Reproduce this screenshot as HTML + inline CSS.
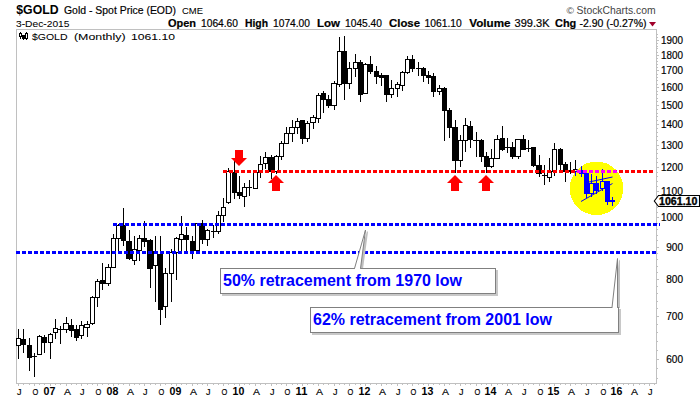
<!DOCTYPE html><html><head><meta charset="utf-8"><style>html,body{margin:0;padding:0;background:#fff;}svg{display:block;}text{font-family:"Liberation Sans",sans-serif;}</style></head><body>
<svg width="700" height="400" viewBox="0 0 700 400">
<rect x="0" y="0" width="700" height="400" fill="#fff"/>
<text x="16.3" y="14.4" font-size="13.2" fill="#000" font-weight="bold" textLength="42.3" lengthAdjust="spacingAndGlyphs">$GOLD</text>
<text x="64" y="14" font-size="11" fill="#000" stroke="#000" stroke-width="0.18" textLength="112" lengthAdjust="spacingAndGlyphs">Gold - Spot Price (EOD)</text>
<text x="182" y="13.8" font-size="9" fill="#000" stroke="#000" stroke-width="0.05" textLength="21" lengthAdjust="spacingAndGlyphs">CME</text>
<text x="16" y="26.6" font-size="9" fill="#000" stroke="#000" stroke-width="0.05" textLength="53.5" lengthAdjust="spacingAndGlyphs">3-Dec-2015</text>
<text x="168" y="26.7" font-size="11.3" fill="#000" font-weight="bold" textLength="28" lengthAdjust="spacingAndGlyphs" stroke="#000" stroke-width="0.2">Open</text>
<text x="201" y="26.7" font-size="10" fill="#000" stroke="#000" stroke-width="0.18" textLength="37" lengthAdjust="spacingAndGlyphs">1064.60</text>
<text x="245" y="26.7" font-size="11.3" fill="#000" font-weight="bold" textLength="23" lengthAdjust="spacingAndGlyphs" stroke="#000" stroke-width="0.2">High</text>
<text x="273" y="26.7" font-size="10" fill="#000" stroke="#000" stroke-width="0.18" textLength="37" lengthAdjust="spacingAndGlyphs">1074.00</text>
<text x="317" y="26.7" font-size="11.3" fill="#000" font-weight="bold" textLength="23" lengthAdjust="spacingAndGlyphs" stroke="#000" stroke-width="0.2">Low</text>
<text x="345" y="26.7" font-size="10" fill="#000" stroke="#000" stroke-width="0.18" textLength="37" lengthAdjust="spacingAndGlyphs">1045.40</text>
<text x="389" y="26.7" font-size="11.3" fill="#000" font-weight="bold" textLength="31" lengthAdjust="spacingAndGlyphs" stroke="#000" stroke-width="0.2">Close</text>
<text x="424.5" y="26.7" font-size="10" fill="#000" stroke="#000" stroke-width="0.18" textLength="37.25" lengthAdjust="spacingAndGlyphs">1061.10</text>
<text x="469.25" y="26.7" font-size="11.3" fill="#000" font-weight="bold" textLength="41.25" lengthAdjust="spacingAndGlyphs" stroke="#000" stroke-width="0.2">Volume</text>
<text x="514.5" y="26.7" font-size="10" fill="#000" stroke="#000" stroke-width="0.18" textLength="35" lengthAdjust="spacingAndGlyphs">399.3K</text>
<text x="555" y="26.7" font-size="11.3" fill="#000" font-weight="bold" textLength="21.25" lengthAdjust="spacingAndGlyphs" stroke="#000" stroke-width="0.2">Chg</text>
<text x="579.5" y="26.7" font-size="10" fill="#000" stroke="#000" stroke-width="0.18" textLength="67" lengthAdjust="spacingAndGlyphs">-2.90 (-0.27%)</text>
<polygon points="649,22 656,22 652.5,26.5" fill="#a0002a"/>
<text x="566.6" y="13.8" font-size="9.5" fill="#444" textLength="7.5" lengthAdjust="spacingAndGlyphs">&#169;</text>
<text x="576.6" y="13.9" font-size="11" fill="#444" textLength="79" lengthAdjust="spacingAndGlyphs">StockCharts.com</text>
<g shape-rendering="crispEdges">
<rect x="16.5" y="29.5" width="640" height="354" fill="none" stroke="#c0c0c0" stroke-width="1"/>
<rect x="657" y="378" width="1" height="1" fill="#c0c0c0"/>
<rect x="657" y="368" width="1" height="1" fill="#c0c0c0"/>
<rect x="657" y="359" width="2" height="1" fill="#c0c0c0"/>
<rect x="657" y="350" width="1" height="1" fill="#c0c0c0"/>
<rect x="657" y="341" width="1" height="1" fill="#c0c0c0"/>
<rect x="657" y="332" width="1" height="1" fill="#c0c0c0"/>
<rect x="657" y="324" width="1" height="1" fill="#c0c0c0"/>
<rect x="657" y="316" width="2" height="1" fill="#c0c0c0"/>
<rect x="657" y="308" width="1" height="1" fill="#c0c0c0"/>
<rect x="657" y="301" width="1" height="1" fill="#c0c0c0"/>
<rect x="657" y="293" width="1" height="1" fill="#c0c0c0"/>
<rect x="657" y="286" width="1" height="1" fill="#c0c0c0"/>
<rect x="657" y="279" width="2" height="1" fill="#c0c0c0"/>
<rect x="657" y="272" width="1" height="1" fill="#c0c0c0"/>
<rect x="657" y="266" width="1" height="1" fill="#c0c0c0"/>
<rect x="657" y="259" width="1" height="1" fill="#c0c0c0"/>
<rect x="657" y="253" width="1" height="1" fill="#c0c0c0"/>
<rect x="657" y="247" width="2" height="1" fill="#c0c0c0"/>
<rect x="657" y="240" width="1" height="1" fill="#c0c0c0"/>
<rect x="657" y="235" width="1" height="1" fill="#c0c0c0"/>
<rect x="657" y="229" width="1" height="1" fill="#c0c0c0"/>
<rect x="657" y="223" width="1" height="1" fill="#c0c0c0"/>
<rect x="657" y="217" width="2" height="1" fill="#c0c0c0"/>
<rect x="657" y="212" width="1" height="1" fill="#c0c0c0"/>
<rect x="657" y="207" width="1" height="1" fill="#c0c0c0"/>
<rect x="657" y="201" width="1" height="1" fill="#c0c0c0"/>
<rect x="657" y="196" width="1" height="1" fill="#c0c0c0"/>
<rect x="657" y="191" width="2" height="1" fill="#c0c0c0"/>
<rect x="657" y="186" width="1" height="1" fill="#c0c0c0"/>
<rect x="657" y="181" width="1" height="1" fill="#c0c0c0"/>
<rect x="657" y="176" width="1" height="1" fill="#c0c0c0"/>
<rect x="657" y="172" width="1" height="1" fill="#c0c0c0"/>
<rect x="657" y="167" width="2" height="1" fill="#c0c0c0"/>
<rect x="657" y="162" width="1" height="1" fill="#c0c0c0"/>
<rect x="657" y="158" width="1" height="1" fill="#c0c0c0"/>
<rect x="657" y="153" width="1" height="1" fill="#c0c0c0"/>
<rect x="657" y="149" width="1" height="1" fill="#c0c0c0"/>
<rect x="657" y="145" width="2" height="1" fill="#c0c0c0"/>
<rect x="657" y="140" width="1" height="1" fill="#c0c0c0"/>
<rect x="657" y="136" width="1" height="1" fill="#c0c0c0"/>
<rect x="657" y="132" width="1" height="1" fill="#c0c0c0"/>
<rect x="657" y="128" width="1" height="1" fill="#c0c0c0"/>
<rect x="657" y="124" width="2" height="1" fill="#c0c0c0"/>
<rect x="657" y="120" width="1" height="1" fill="#c0c0c0"/>
<rect x="657" y="116" width="1" height="1" fill="#c0c0c0"/>
<rect x="657" y="113" width="1" height="1" fill="#c0c0c0"/>
<rect x="657" y="109" width="1" height="1" fill="#c0c0c0"/>
<rect x="657" y="105" width="2" height="1" fill="#c0c0c0"/>
<rect x="657" y="101" width="1" height="1" fill="#c0c0c0"/>
<rect x="657" y="98" width="1" height="1" fill="#c0c0c0"/>
<rect x="657" y="94" width="1" height="1" fill="#c0c0c0"/>
<rect x="657" y="91" width="1" height="1" fill="#c0c0c0"/>
<rect x="657" y="87" width="2" height="1" fill="#c0c0c0"/>
<rect x="657" y="84" width="1" height="1" fill="#c0c0c0"/>
<rect x="657" y="80" width="1" height="1" fill="#c0c0c0"/>
<rect x="657" y="77" width="1" height="1" fill="#c0c0c0"/>
<rect x="657" y="74" width="1" height="1" fill="#c0c0c0"/>
<rect x="657" y="70" width="2" height="1" fill="#c0c0c0"/>
<rect x="657" y="67" width="1" height="1" fill="#c0c0c0"/>
<rect x="657" y="64" width="1" height="1" fill="#c0c0c0"/>
<rect x="657" y="61" width="1" height="1" fill="#c0c0c0"/>
<rect x="657" y="58" width="1" height="1" fill="#c0c0c0"/>
<rect x="657" y="55" width="2" height="1" fill="#c0c0c0"/>
<rect x="657" y="52" width="1" height="1" fill="#c0c0c0"/>
<rect x="657" y="48" width="1" height="1" fill="#c0c0c0"/>
<rect x="657" y="46" width="1" height="1" fill="#c0c0c0"/>
<rect x="657" y="43" width="1" height="1" fill="#c0c0c0"/>
<rect x="657" y="40" width="2" height="1" fill="#c0c0c0"/>
<rect x="657" y="37" width="1" height="1" fill="#c0c0c0"/>
<rect x="657" y="34" width="1" height="1" fill="#c0c0c0"/>
<rect x="18" y="384" width="1" height="2" fill="#c0c0c0"/>
<rect x="23" y="384" width="1" height="1" fill="#c0c0c0"/>
<rect x="29" y="384" width="1" height="1" fill="#c0c0c0"/>
<rect x="34" y="384" width="1" height="2" fill="#c0c0c0"/>
<rect x="39" y="384" width="1" height="1" fill="#c0c0c0"/>
<rect x="44" y="384" width="1" height="1" fill="#c0c0c0"/>
<rect x="50" y="384" width="1" height="2" fill="#c0c0c0"/>
<rect x="55" y="384" width="1" height="1" fill="#c0c0c0"/>
<rect x="60" y="384" width="1" height="1" fill="#c0c0c0"/>
<rect x="66" y="384" width="1" height="2" fill="#c0c0c0"/>
<rect x="71" y="384" width="1" height="1" fill="#c0c0c0"/>
<rect x="76" y="384" width="1" height="1" fill="#c0c0c0"/>
<rect x="81" y="384" width="1" height="2" fill="#c0c0c0"/>
<rect x="87" y="384" width="1" height="1" fill="#c0c0c0"/>
<rect x="92" y="384" width="1" height="1" fill="#c0c0c0"/>
<rect x="97" y="384" width="1" height="2" fill="#c0c0c0"/>
<rect x="102" y="384" width="1" height="1" fill="#c0c0c0"/>
<rect x="108" y="384" width="1" height="1" fill="#c0c0c0"/>
<rect x="113" y="384" width="1" height="2" fill="#c0c0c0"/>
<rect x="118" y="384" width="1" height="1" fill="#c0c0c0"/>
<rect x="123" y="384" width="1" height="1" fill="#c0c0c0"/>
<rect x="129" y="384" width="1" height="2" fill="#c0c0c0"/>
<rect x="134" y="384" width="1" height="1" fill="#c0c0c0"/>
<rect x="139" y="384" width="1" height="1" fill="#c0c0c0"/>
<rect x="144" y="384" width="1" height="2" fill="#c0c0c0"/>
<rect x="150" y="384" width="1" height="1" fill="#c0c0c0"/>
<rect x="155" y="384" width="1" height="1" fill="#c0c0c0"/>
<rect x="160" y="384" width="1" height="2" fill="#c0c0c0"/>
<rect x="165" y="384" width="1" height="1" fill="#c0c0c0"/>
<rect x="171" y="384" width="1" height="1" fill="#c0c0c0"/>
<rect x="176" y="384" width="1" height="2" fill="#c0c0c0"/>
<rect x="181" y="384" width="1" height="1" fill="#c0c0c0"/>
<rect x="186" y="384" width="1" height="1" fill="#c0c0c0"/>
<rect x="192" y="384" width="1" height="2" fill="#c0c0c0"/>
<rect x="197" y="384" width="1" height="1" fill="#c0c0c0"/>
<rect x="202" y="384" width="1" height="1" fill="#c0c0c0"/>
<rect x="207" y="384" width="1" height="2" fill="#c0c0c0"/>
<rect x="213" y="384" width="1" height="1" fill="#c0c0c0"/>
<rect x="218" y="384" width="1" height="1" fill="#c0c0c0"/>
<rect x="223" y="384" width="1" height="2" fill="#c0c0c0"/>
<rect x="228" y="384" width="1" height="1" fill="#c0c0c0"/>
<rect x="234" y="384" width="1" height="1" fill="#c0c0c0"/>
<rect x="239" y="384" width="1" height="2" fill="#c0c0c0"/>
<rect x="244" y="384" width="1" height="1" fill="#c0c0c0"/>
<rect x="249" y="384" width="1" height="1" fill="#c0c0c0"/>
<rect x="255" y="384" width="1" height="2" fill="#c0c0c0"/>
<rect x="260" y="384" width="1" height="1" fill="#c0c0c0"/>
<rect x="265" y="384" width="1" height="1" fill="#c0c0c0"/>
<rect x="271" y="384" width="1" height="2" fill="#c0c0c0"/>
<rect x="276" y="384" width="1" height="1" fill="#c0c0c0"/>
<rect x="281" y="384" width="1" height="1" fill="#c0c0c0"/>
<rect x="286" y="384" width="1" height="2" fill="#c0c0c0"/>
<rect x="292" y="384" width="1" height="1" fill="#c0c0c0"/>
<rect x="297" y="384" width="1" height="1" fill="#c0c0c0"/>
<rect x="302" y="384" width="1" height="2" fill="#c0c0c0"/>
<rect x="307" y="384" width="1" height="1" fill="#c0c0c0"/>
<rect x="313" y="384" width="1" height="1" fill="#c0c0c0"/>
<rect x="318" y="384" width="1" height="2" fill="#c0c0c0"/>
<rect x="323" y="384" width="1" height="1" fill="#c0c0c0"/>
<rect x="328" y="384" width="1" height="1" fill="#c0c0c0"/>
<rect x="334" y="384" width="1" height="2" fill="#c0c0c0"/>
<rect x="339" y="384" width="1" height="1" fill="#c0c0c0"/>
<rect x="344" y="384" width="1" height="1" fill="#c0c0c0"/>
<rect x="349" y="384" width="1" height="2" fill="#c0c0c0"/>
<rect x="355" y="384" width="1" height="1" fill="#c0c0c0"/>
<rect x="360" y="384" width="1" height="1" fill="#c0c0c0"/>
<rect x="365" y="384" width="1" height="2" fill="#c0c0c0"/>
<rect x="370" y="384" width="1" height="1" fill="#c0c0c0"/>
<rect x="376" y="384" width="1" height="1" fill="#c0c0c0"/>
<rect x="381" y="384" width="1" height="2" fill="#c0c0c0"/>
<rect x="386" y="384" width="1" height="1" fill="#c0c0c0"/>
<rect x="391" y="384" width="1" height="1" fill="#c0c0c0"/>
<rect x="397" y="384" width="1" height="2" fill="#c0c0c0"/>
<rect x="402" y="384" width="1" height="1" fill="#c0c0c0"/>
<rect x="407" y="384" width="1" height="1" fill="#c0c0c0"/>
<rect x="412" y="384" width="1" height="2" fill="#c0c0c0"/>
<rect x="418" y="384" width="1" height="1" fill="#c0c0c0"/>
<rect x="423" y="384" width="1" height="1" fill="#c0c0c0"/>
<rect x="428" y="384" width="1" height="2" fill="#c0c0c0"/>
<rect x="433" y="384" width="1" height="1" fill="#c0c0c0"/>
<rect x="439" y="384" width="1" height="1" fill="#c0c0c0"/>
<rect x="444" y="384" width="1" height="2" fill="#c0c0c0"/>
<rect x="449" y="384" width="1" height="1" fill="#c0c0c0"/>
<rect x="455" y="384" width="1" height="1" fill="#c0c0c0"/>
<rect x="460" y="384" width="1" height="2" fill="#c0c0c0"/>
<rect x="465" y="384" width="1" height="1" fill="#c0c0c0"/>
<rect x="470" y="384" width="1" height="1" fill="#c0c0c0"/>
<rect x="476" y="384" width="1" height="2" fill="#c0c0c0"/>
<rect x="481" y="384" width="1" height="1" fill="#c0c0c0"/>
<rect x="486" y="384" width="1" height="1" fill="#c0c0c0"/>
<rect x="491" y="384" width="1" height="2" fill="#c0c0c0"/>
<rect x="497" y="384" width="1" height="1" fill="#c0c0c0"/>
<rect x="502" y="384" width="1" height="1" fill="#c0c0c0"/>
<rect x="507" y="384" width="1" height="2" fill="#c0c0c0"/>
<rect x="512" y="384" width="1" height="1" fill="#c0c0c0"/>
<rect x="518" y="384" width="1" height="1" fill="#c0c0c0"/>
<rect x="523" y="384" width="1" height="2" fill="#c0c0c0"/>
<rect x="528" y="384" width="1" height="1" fill="#c0c0c0"/>
<rect x="533" y="384" width="1" height="1" fill="#c0c0c0"/>
<rect x="539" y="384" width="1" height="2" fill="#c0c0c0"/>
<rect x="544" y="384" width="1" height="1" fill="#c0c0c0"/>
<rect x="549" y="384" width="1" height="1" fill="#c0c0c0"/>
<rect x="554" y="384" width="1" height="2" fill="#c0c0c0"/>
<rect x="560" y="384" width="1" height="1" fill="#c0c0c0"/>
<rect x="565" y="384" width="1" height="1" fill="#c0c0c0"/>
<rect x="570" y="384" width="1" height="2" fill="#c0c0c0"/>
<rect x="575" y="384" width="1" height="1" fill="#c0c0c0"/>
<rect x="581" y="384" width="1" height="1" fill="#c0c0c0"/>
<rect x="586" y="384" width="1" height="2" fill="#c0c0c0"/>
<rect x="591" y="384" width="1" height="1" fill="#c0c0c0"/>
<rect x="596" y="384" width="1" height="1" fill="#c0c0c0"/>
<rect x="602" y="384" width="1" height="2" fill="#c0c0c0"/>
<rect x="607" y="384" width="1" height="1" fill="#c0c0c0"/>
<rect x="612" y="384" width="1" height="1" fill="#c0c0c0"/>
<rect x="617" y="384" width="1" height="2" fill="#c0c0c0"/>
<rect x="623" y="384" width="1" height="1" fill="#c0c0c0"/>
<rect x="628" y="384" width="1" height="1" fill="#c0c0c0"/>
<rect x="633" y="384" width="1" height="2" fill="#c0c0c0"/>
<rect x="639" y="384" width="1" height="1" fill="#c0c0c0"/>
<rect x="644" y="384" width="1" height="1" fill="#c0c0c0"/>
<rect x="649" y="384" width="1" height="2" fill="#c0c0c0"/>
<rect x="654" y="384" width="1" height="1" fill="#c0c0c0"/>
</g>
<text x="683" y="43.60777574706725" font-size="10" fill="#000" stroke="#000" stroke-width="0.18" textLength="22" lengthAdjust="spacingAndGlyphs" text-anchor="end">1900</text>
<text x="683" y="58.58439603893356" font-size="10" fill="#000" stroke="#000" stroke-width="0.18" textLength="22" lengthAdjust="spacingAndGlyphs" text-anchor="end">1800</text>
<text x="683" y="74.41727667259931" font-size="10" fill="#000" stroke="#000" stroke-width="0.18" textLength="22" lengthAdjust="spacingAndGlyphs" text-anchor="end">1700</text>
<text x="683" y="91.21029691575183" font-size="10" fill="#000" stroke="#000" stroke-width="0.18" textLength="22" lengthAdjust="spacingAndGlyphs" text-anchor="end">1600</text>
<text x="683" y="109.08746727085901" font-size="10" fill="#000" stroke="#000" stroke-width="0.18" textLength="22" lengthAdjust="spacingAndGlyphs" text-anchor="end">1500</text>
<text x="683" y="128.19849267274455" font-size="10" fill="#000" stroke="#000" stroke-width="0.18" textLength="22" lengthAdjust="spacingAndGlyphs" text-anchor="end">1400</text>
<text x="683" y="148.72640095932556" font-size="10" fill="#000" stroke="#000" stroke-width="0.18" textLength="22" lengthAdjust="spacingAndGlyphs" text-anchor="end">1300</text>
<text x="683" y="170.89823098489512" font-size="10" fill="#000" stroke="#000" stroke-width="0.18" textLength="22" lengthAdjust="spacingAndGlyphs" text-anchor="end">1200</text>
<text x="683" y="195.0003824110226" font-size="10" fill="#000" stroke="#000" stroke-width="0.18" textLength="22" lengthAdjust="spacingAndGlyphs" text-anchor="end">1100</text>
<text x="683" y="221.40130221682054" font-size="10" fill="#000" stroke="#000" stroke-width="0.18" textLength="22" lengthAdjust="spacingAndGlyphs" text-anchor="end">1000</text>
<text x="683" y="250.58616505403845" font-size="10" fill="#000" stroke="#000" stroke-width="0.18" textLength="16.8" lengthAdjust="spacingAndGlyphs" text-anchor="end">900</text>
<text x="683" y="283.2120659308567" font-size="10" fill="#000" stroke="#000" stroke-width="0.18" textLength="16.8" lengthAdjust="spacingAndGlyphs" text-anchor="end">800</text>
<text x="683" y="320.20026168784943" font-size="10" fill="#000" stroke="#000" stroke-width="0.18" textLength="16.8" lengthAdjust="spacingAndGlyphs" text-anchor="end">700</text>
<text x="683" y="362.9" font-size="10" fill="#000" stroke="#000" stroke-width="0.18" textLength="16.8" lengthAdjust="spacingAndGlyphs" text-anchor="end">600</text>
<text x="19.2" y="394.8" font-size="9.5" fill="#000" stroke="#000" stroke-width="0.18" textLength="4.5" lengthAdjust="spacingAndGlyphs" text-anchor="middle">J</text>
<text x="35.3" y="394.8" font-size="9.5" fill="#000" stroke="#000" stroke-width="0.18" textLength="5.8" lengthAdjust="spacingAndGlyphs" text-anchor="middle">O</text>
<text x="49.5" y="395" font-size="11" fill="#000" font-weight="bold" textLength="11.8" lengthAdjust="spacingAndGlyphs" text-anchor="middle">07</text>
<text x="67.4" y="394.8" font-size="9.5" fill="#000" stroke="#000" stroke-width="0.18" textLength="7" lengthAdjust="spacingAndGlyphs" text-anchor="middle">A</text>
<text x="82.2" y="394.8" font-size="9.5" fill="#000" stroke="#000" stroke-width="0.18" textLength="4.5" lengthAdjust="spacingAndGlyphs" text-anchor="middle">J</text>
<text x="98.3" y="394.8" font-size="9.5" fill="#000" stroke="#000" stroke-width="0.18" textLength="5.8" lengthAdjust="spacingAndGlyphs" text-anchor="middle">O</text>
<text x="112.5" y="395" font-size="11" fill="#000" font-weight="bold" textLength="11.8" lengthAdjust="spacingAndGlyphs" text-anchor="middle">08</text>
<text x="130.4" y="394.8" font-size="9.5" fill="#000" stroke="#000" stroke-width="0.18" textLength="7" lengthAdjust="spacingAndGlyphs" text-anchor="middle">A</text>
<text x="145.2" y="394.8" font-size="9.5" fill="#000" stroke="#000" stroke-width="0.18" textLength="4.5" lengthAdjust="spacingAndGlyphs" text-anchor="middle">J</text>
<text x="161.3" y="394.8" font-size="9.5" fill="#000" stroke="#000" stroke-width="0.18" textLength="5.8" lengthAdjust="spacingAndGlyphs" text-anchor="middle">O</text>
<text x="175.5" y="395" font-size="11" fill="#000" font-weight="bold" textLength="11.8" lengthAdjust="spacingAndGlyphs" text-anchor="middle">09</text>
<text x="193.4" y="394.8" font-size="9.5" fill="#000" stroke="#000" stroke-width="0.18" textLength="7" lengthAdjust="spacingAndGlyphs" text-anchor="middle">A</text>
<text x="208.2" y="394.8" font-size="9.5" fill="#000" stroke="#000" stroke-width="0.18" textLength="4.5" lengthAdjust="spacingAndGlyphs" text-anchor="middle">J</text>
<text x="224.3" y="394.8" font-size="9.5" fill="#000" stroke="#000" stroke-width="0.18" textLength="5.8" lengthAdjust="spacingAndGlyphs" text-anchor="middle">O</text>
<text x="238.5" y="395" font-size="11" fill="#000" font-weight="bold" textLength="11.8" lengthAdjust="spacingAndGlyphs" text-anchor="middle">10</text>
<text x="256.4" y="394.8" font-size="9.5" fill="#000" stroke="#000" stroke-width="0.18" textLength="7" lengthAdjust="spacingAndGlyphs" text-anchor="middle">A</text>
<text x="272.2" y="394.8" font-size="9.5" fill="#000" stroke="#000" stroke-width="0.18" textLength="4.5" lengthAdjust="spacingAndGlyphs" text-anchor="middle">J</text>
<text x="287.3" y="394.8" font-size="9.5" fill="#000" stroke="#000" stroke-width="0.18" textLength="5.8" lengthAdjust="spacingAndGlyphs" text-anchor="middle">O</text>
<text x="301.5" y="395" font-size="11" fill="#000" font-weight="bold" textLength="11.8" lengthAdjust="spacingAndGlyphs" text-anchor="middle">11</text>
<text x="319.4" y="394.8" font-size="9.5" fill="#000" stroke="#000" stroke-width="0.18" textLength="7" lengthAdjust="spacingAndGlyphs" text-anchor="middle">A</text>
<text x="335.2" y="394.8" font-size="9.5" fill="#000" stroke="#000" stroke-width="0.18" textLength="4.5" lengthAdjust="spacingAndGlyphs" text-anchor="middle">J</text>
<text x="350.3" y="394.8" font-size="9.5" fill="#000" stroke="#000" stroke-width="0.18" textLength="5.8" lengthAdjust="spacingAndGlyphs" text-anchor="middle">O</text>
<text x="364.5" y="395" font-size="11" fill="#000" font-weight="bold" textLength="11.8" lengthAdjust="spacingAndGlyphs" text-anchor="middle">12</text>
<text x="382.4" y="394.8" font-size="9.5" fill="#000" stroke="#000" stroke-width="0.18" textLength="7" lengthAdjust="spacingAndGlyphs" text-anchor="middle">A</text>
<text x="398.2" y="394.8" font-size="9.5" fill="#000" stroke="#000" stroke-width="0.18" textLength="4.5" lengthAdjust="spacingAndGlyphs" text-anchor="middle">J</text>
<text x="413.3" y="394.8" font-size="9.5" fill="#000" stroke="#000" stroke-width="0.18" textLength="5.8" lengthAdjust="spacingAndGlyphs" text-anchor="middle">O</text>
<text x="427.5" y="395" font-size="11" fill="#000" font-weight="bold" textLength="11.8" lengthAdjust="spacingAndGlyphs" text-anchor="middle">13</text>
<text x="445.4" y="394.8" font-size="9.5" fill="#000" stroke="#000" stroke-width="0.18" textLength="7" lengthAdjust="spacingAndGlyphs" text-anchor="middle">A</text>
<text x="461.2" y="394.8" font-size="9.5" fill="#000" stroke="#000" stroke-width="0.18" textLength="4.5" lengthAdjust="spacingAndGlyphs" text-anchor="middle">J</text>
<text x="477.3" y="394.8" font-size="9.5" fill="#000" stroke="#000" stroke-width="0.18" textLength="5.8" lengthAdjust="spacingAndGlyphs" text-anchor="middle">O</text>
<text x="490.5" y="395" font-size="11" fill="#000" font-weight="bold" textLength="11.8" lengthAdjust="spacingAndGlyphs" text-anchor="middle">14</text>
<text x="508.4" y="394.8" font-size="9.5" fill="#000" stroke="#000" stroke-width="0.18" textLength="7" lengthAdjust="spacingAndGlyphs" text-anchor="middle">A</text>
<text x="524.2" y="394.8" font-size="9.5" fill="#000" stroke="#000" stroke-width="0.18" textLength="4.5" lengthAdjust="spacingAndGlyphs" text-anchor="middle">J</text>
<text x="540.3" y="394.8" font-size="9.5" fill="#000" stroke="#000" stroke-width="0.18" textLength="5.8" lengthAdjust="spacingAndGlyphs" text-anchor="middle">O</text>
<text x="553.5" y="395" font-size="11" fill="#000" font-weight="bold" textLength="11.8" lengthAdjust="spacingAndGlyphs" text-anchor="middle">15</text>
<text x="571.4" y="394.8" font-size="9.5" fill="#000" stroke="#000" stroke-width="0.18" textLength="7" lengthAdjust="spacingAndGlyphs" text-anchor="middle">A</text>
<text x="587.2" y="394.8" font-size="9.5" fill="#000" stroke="#000" stroke-width="0.18" textLength="4.5" lengthAdjust="spacingAndGlyphs" text-anchor="middle">J</text>
<text x="603.3" y="394.8" font-size="9.5" fill="#000" stroke="#000" stroke-width="0.18" textLength="5.8" lengthAdjust="spacingAndGlyphs" text-anchor="middle">O</text>
<text x="616.5" y="395" font-size="11" fill="#000" font-weight="bold" textLength="11.8" lengthAdjust="spacingAndGlyphs" text-anchor="middle">16</text>
<text x="634.4" y="394.8" font-size="9.5" fill="#000" stroke="#000" stroke-width="0.18" textLength="7" lengthAdjust="spacingAndGlyphs" text-anchor="middle">A</text>
<text x="650.2" y="394.8" font-size="9.5" fill="#000" stroke="#000" stroke-width="0.18" textLength="4.5" lengthAdjust="spacingAndGlyphs" text-anchor="middle">J</text>
<g shape-rendering="crispEdges">
<rect x="18" y="329" width="1" height="30" fill="#000"/>
<rect x="16" y="338" width="5" height="8" fill="#000"/>
<rect x="17" y="339" width="3" height="6" fill="#fff"/>
<rect x="23" y="329" width="1" height="24" fill="#000"/>
<rect x="21" y="339" width="5" height="6" fill="#000"/>
<rect x="29" y="338" width="1" height="33" fill="#000"/>
<rect x="27" y="345" width="5" height="13" fill="#000"/>
<rect x="34" y="353" width="1" height="24" fill="#000"/>
<rect x="32" y="356" width="5" height="1" fill="#000"/>
<rect x="39" y="335" width="1" height="20" fill="#000"/>
<rect x="37" y="336" width="5" height="19" fill="#000"/>
<rect x="38" y="337" width="3" height="17" fill="#fff"/>
<rect x="44" y="335" width="1" height="18" fill="#000"/>
<rect x="42" y="337" width="5" height="6" fill="#000"/>
<rect x="50" y="333" width="1" height="26" fill="#000"/>
<rect x="48" y="334" width="5" height="9" fill="#000"/>
<rect x="49" y="335" width="3" height="7" fill="#fff"/>
<rect x="55" y="319" width="1" height="20" fill="#000"/>
<rect x="53" y="328" width="5" height="5" fill="#000"/>
<rect x="54" y="329" width="3" height="3" fill="#fff"/>
<rect x="60" y="326" width="1" height="18" fill="#000"/>
<rect x="58" y="329" width="5" height="1" fill="#000"/>
<rect x="66" y="317" width="1" height="16" fill="#000"/>
<rect x="63" y="323" width="6" height="7" fill="#000"/>
<rect x="64" y="324" width="4" height="5" fill="#fff"/>
<rect x="71" y="319" width="1" height="18" fill="#000"/>
<rect x="69" y="325" width="5" height="6" fill="#000"/>
<rect x="76" y="325" width="1" height="16" fill="#000"/>
<rect x="74" y="329" width="5" height="9" fill="#000"/>
<rect x="81" y="321" width="1" height="18" fill="#000"/>
<rect x="79" y="325" width="5" height="11" fill="#000"/>
<rect x="80" y="326" width="3" height="9" fill="#fff"/>
<rect x="87" y="321" width="1" height="16" fill="#000"/>
<rect x="84" y="324" width="6" height="4" fill="#000"/>
<rect x="85" y="325" width="4" height="2" fill="#fff"/>
<rect x="92" y="296" width="1" height="29" fill="#000"/>
<rect x="90" y="297" width="5" height="27" fill="#000"/>
<rect x="91" y="298" width="3" height="25" fill="#fff"/>
<rect x="97" y="279" width="1" height="28" fill="#000"/>
<rect x="95" y="281" width="5" height="17" fill="#000"/>
<rect x="96" y="282" width="3" height="15" fill="#fff"/>
<rect x="102" y="263" width="1" height="27" fill="#000"/>
<rect x="100" y="280" width="5" height="4" fill="#000"/>
<rect x="108" y="264" width="1" height="22" fill="#000"/>
<rect x="105" y="267" width="6" height="17" fill="#000"/>
<rect x="106" y="268" width="4" height="15" fill="#fff"/>
<rect x="113" y="234" width="1" height="34" fill="#000"/>
<rect x="111" y="238" width="5" height="30" fill="#000"/>
<rect x="112" y="239" width="3" height="28" fill="#fff"/>
<rect x="118" y="224" width="1" height="27" fill="#000"/>
<rect x="116" y="225" width="5" height="14" fill="#000"/>
<rect x="117" y="226" width="3" height="12" fill="#fff"/>
<rect x="123" y="208" width="1" height="38" fill="#000"/>
<rect x="121" y="225" width="5" height="16" fill="#000"/>
<rect x="129" y="230" width="1" height="30" fill="#000"/>
<rect x="126" y="241" width="6" height="18" fill="#000"/>
<rect x="134" y="236" width="1" height="29" fill="#000"/>
<rect x="132" y="249" width="5" height="12" fill="#000"/>
<rect x="133" y="250" width="3" height="10" fill="#fff"/>
<rect x="139" y="235" width="1" height="26" fill="#000"/>
<rect x="137" y="238" width="5" height="13" fill="#000"/>
<rect x="138" y="239" width="3" height="11" fill="#fff"/>
<rect x="144" y="221" width="1" height="26" fill="#000"/>
<rect x="142" y="238" width="5" height="4" fill="#000"/>
<rect x="150" y="239" width="1" height="49" fill="#000"/>
<rect x="147" y="240" width="6" height="29" fill="#000"/>
<rect x="155" y="236" width="1" height="66" fill="#000"/>
<rect x="153" y="251" width="5" height="15" fill="#000"/>
<rect x="154" y="252" width="3" height="13" fill="#fff"/>
<rect x="160" y="236" width="1" height="89" fill="#000"/>
<rect x="158" y="254" width="5" height="56" fill="#000"/>
<rect x="165" y="268" width="1" height="50" fill="#000"/>
<rect x="163" y="273" width="5" height="34" fill="#000"/>
<rect x="164" y="274" width="3" height="32" fill="#fff"/>
<rect x="171" y="249" width="1" height="53" fill="#000"/>
<rect x="169" y="252" width="5" height="22" fill="#000"/>
<rect x="170" y="253" width="3" height="20" fill="#fff"/>
<rect x="176" y="237" width="1" height="43" fill="#000"/>
<rect x="174" y="238" width="5" height="15" fill="#000"/>
<rect x="175" y="239" width="3" height="13" fill="#fff"/>
<rect x="181" y="216" width="1" height="35" fill="#000"/>
<rect x="179" y="234" width="5" height="6" fill="#000"/>
<rect x="180" y="235" width="3" height="4" fill="#fff"/>
<rect x="186" y="227" width="1" height="24" fill="#000"/>
<rect x="184" y="235" width="5" height="5" fill="#000"/>
<rect x="192" y="236" width="1" height="23" fill="#000"/>
<rect x="190" y="241" width="5" height="10" fill="#000"/>
<rect x="197" y="223" width="1" height="28" fill="#000"/>
<rect x="195" y="223" width="5" height="28" fill="#000"/>
<rect x="196" y="224" width="3" height="26" fill="#fff"/>
<rect x="202" y="220" width="1" height="24" fill="#000"/>
<rect x="200" y="223" width="5" height="17" fill="#000"/>
<rect x="207" y="229" width="1" height="17" fill="#000"/>
<rect x="205" y="230" width="5" height="10" fill="#000"/>
<rect x="206" y="231" width="3" height="8" fill="#fff"/>
<rect x="213" y="225" width="1" height="13" fill="#000"/>
<rect x="211" y="231" width="5" height="1" fill="#000"/>
<rect x="218" y="211" width="1" height="23" fill="#000"/>
<rect x="216" y="215" width="5" height="17" fill="#000"/>
<rect x="217" y="216" width="3" height="15" fill="#fff"/>
<rect x="223" y="198" width="1" height="24" fill="#000"/>
<rect x="221" y="207" width="5" height="9" fill="#000"/>
<rect x="222" y="208" width="3" height="7" fill="#fff"/>
<rect x="228" y="168" width="1" height="36" fill="#000"/>
<rect x="226" y="171" width="5" height="32" fill="#000"/>
<rect x="227" y="172" width="3" height="30" fill="#fff"/>
<rect x="234" y="161" width="1" height="38" fill="#000"/>
<rect x="232" y="172" width="5" height="21" fill="#000"/>
<rect x="239" y="176" width="1" height="23" fill="#000"/>
<rect x="237" y="192" width="5" height="4" fill="#000"/>
<rect x="244" y="183" width="1" height="24" fill="#000"/>
<rect x="242" y="187" width="5" height="10" fill="#000"/>
<rect x="243" y="188" width="3" height="8" fill="#fff"/>
<rect x="249" y="180" width="1" height="16" fill="#000"/>
<rect x="247" y="187" width="5" height="1" fill="#000"/>
<rect x="255" y="172" width="1" height="17" fill="#000"/>
<rect x="253" y="172" width="5" height="17" fill="#000"/>
<rect x="254" y="173" width="3" height="15" fill="#fff"/>
<rect x="260" y="156" width="1" height="22" fill="#000"/>
<rect x="258" y="164" width="5" height="9" fill="#000"/>
<rect x="259" y="165" width="3" height="7" fill="#fff"/>
<rect x="265" y="152" width="1" height="17" fill="#000"/>
<rect x="263" y="157" width="5" height="7" fill="#000"/>
<rect x="264" y="158" width="3" height="5" fill="#fff"/>
<rect x="271" y="155" width="1" height="24" fill="#000"/>
<rect x="268" y="157" width="6" height="15" fill="#000"/>
<rect x="276" y="155" width="1" height="19" fill="#000"/>
<rect x="274" y="156" width="5" height="16" fill="#000"/>
<rect x="275" y="157" width="3" height="14" fill="#fff"/>
<rect x="281" y="141" width="1" height="19" fill="#000"/>
<rect x="279" y="143" width="5" height="14" fill="#000"/>
<rect x="280" y="144" width="3" height="12" fill="#fff"/>
<rect x="286" y="127" width="1" height="17" fill="#000"/>
<rect x="284" y="133" width="5" height="11" fill="#000"/>
<rect x="285" y="134" width="3" height="9" fill="#fff"/>
<rect x="292" y="120" width="1" height="22" fill="#000"/>
<rect x="289" y="127" width="6" height="7" fill="#000"/>
<rect x="290" y="128" width="4" height="5" fill="#fff"/>
<rect x="297" y="118" width="1" height="16" fill="#000"/>
<rect x="295" y="121" width="5" height="7" fill="#000"/>
<rect x="296" y="122" width="3" height="5" fill="#fff"/>
<rect x="302" y="120" width="1" height="24" fill="#000"/>
<rect x="300" y="120" width="5" height="19" fill="#000"/>
<rect x="307" y="121" width="1" height="21" fill="#000"/>
<rect x="305" y="123" width="5" height="16" fill="#000"/>
<rect x="306" y="124" width="3" height="14" fill="#fff"/>
<rect x="313" y="115" width="1" height="14" fill="#000"/>
<rect x="310" y="117" width="6" height="6" fill="#000"/>
<rect x="311" y="118" width="4" height="4" fill="#fff"/>
<rect x="318" y="93" width="1" height="30" fill="#000"/>
<rect x="316" y="95" width="5" height="24" fill="#000"/>
<rect x="317" y="96" width="3" height="22" fill="#fff"/>
<rect x="323" y="91" width="1" height="22" fill="#000"/>
<rect x="321" y="93" width="5" height="7" fill="#000"/>
<rect x="328" y="95" width="1" height="13" fill="#000"/>
<rect x="326" y="99" width="5" height="7" fill="#000"/>
<rect x="334" y="81" width="1" height="29" fill="#000"/>
<rect x="331" y="83" width="6" height="23" fill="#000"/>
<rect x="332" y="84" width="4" height="21" fill="#fff"/>
<rect x="339" y="37" width="1" height="50" fill="#000"/>
<rect x="337" y="51" width="5" height="34" fill="#000"/>
<rect x="338" y="52" width="3" height="32" fill="#fff"/>
<rect x="344" y="36" width="1" height="64" fill="#000"/>
<rect x="342" y="51" width="5" height="33" fill="#000"/>
<rect x="349" y="62" width="1" height="27" fill="#000"/>
<rect x="347" y="68" width="5" height="16" fill="#000"/>
<rect x="348" y="69" width="3" height="14" fill="#fff"/>
<rect x="355" y="54" width="1" height="23" fill="#000"/>
<rect x="353" y="62" width="5" height="7" fill="#000"/>
<rect x="354" y="63" width="3" height="5" fill="#fff"/>
<rect x="360" y="60" width="1" height="42" fill="#000"/>
<rect x="358" y="62" width="5" height="33" fill="#000"/>
<rect x="365" y="63" width="1" height="31" fill="#000"/>
<rect x="363" y="64" width="5" height="30" fill="#000"/>
<rect x="364" y="65" width="3" height="28" fill="#fff"/>
<rect x="370" y="56" width="1" height="18" fill="#000"/>
<rect x="368" y="64" width="5" height="8" fill="#000"/>
<rect x="376" y="66" width="1" height="18" fill="#000"/>
<rect x="374" y="71" width="5" height="6" fill="#000"/>
<rect x="381" y="73" width="1" height="13" fill="#000"/>
<rect x="379" y="75" width="5" height="3" fill="#000"/>
<rect x="386" y="75" width="1" height="27" fill="#000"/>
<rect x="384" y="75" width="5" height="20" fill="#000"/>
<rect x="391" y="80" width="1" height="18" fill="#000"/>
<rect x="389" y="88" width="5" height="7" fill="#000"/>
<rect x="390" y="89" width="3" height="5" fill="#fff"/>
<rect x="397" y="82" width="1" height="15" fill="#000"/>
<rect x="395" y="84" width="5" height="5" fill="#000"/>
<rect x="396" y="85" width="3" height="3" fill="#fff"/>
<rect x="402" y="71" width="1" height="20" fill="#000"/>
<rect x="400" y="72" width="5" height="14" fill="#000"/>
<rect x="401" y="73" width="3" height="12" fill="#fff"/>
<rect x="407" y="56" width="1" height="18" fill="#000"/>
<rect x="405" y="59" width="5" height="14" fill="#000"/>
<rect x="406" y="60" width="3" height="12" fill="#fff"/>
<rect x="412" y="55" width="1" height="17" fill="#000"/>
<rect x="410" y="59" width="5" height="10" fill="#000"/>
<rect x="418" y="62" width="1" height="14" fill="#000"/>
<rect x="416" y="68" width="5" height="1" fill="#000"/>
<rect x="423" y="67" width="1" height="15" fill="#000"/>
<rect x="421" y="68" width="5" height="8" fill="#000"/>
<rect x="428" y="71" width="1" height="13" fill="#000"/>
<rect x="426" y="75" width="5" height="3" fill="#000"/>
<rect x="433" y="73" width="1" height="24" fill="#000"/>
<rect x="431" y="76" width="5" height="16" fill="#000"/>
<rect x="439" y="85" width="1" height="10" fill="#000"/>
<rect x="437" y="88" width="5" height="4" fill="#000"/>
<rect x="438" y="89" width="3" height="2" fill="#fff"/>
<rect x="444" y="87" width="1" height="54" fill="#000"/>
<rect x="442" y="88" width="5" height="23" fill="#000"/>
<rect x="449" y="108" width="1" height="30" fill="#000"/>
<rect x="447" y="110" width="5" height="18" fill="#000"/>
<rect x="455" y="120" width="1" height="53" fill="#000"/>
<rect x="452" y="127" width="6" height="34" fill="#000"/>
<rect x="460" y="135" width="1" height="32" fill="#000"/>
<rect x="458" y="140" width="5" height="21" fill="#000"/>
<rect x="459" y="141" width="3" height="19" fill="#fff"/>
<rect x="465" y="118" width="1" height="34" fill="#000"/>
<rect x="463" y="125" width="5" height="16" fill="#000"/>
<rect x="464" y="126" width="3" height="14" fill="#fff"/>
<rect x="470" y="121" width="1" height="27" fill="#000"/>
<rect x="468" y="126" width="5" height="14" fill="#000"/>
<rect x="476" y="132" width="1" height="25" fill="#000"/>
<rect x="473" y="140" width="6" height="1" fill="#000"/>
<rect x="481" y="139" width="1" height="23" fill="#000"/>
<rect x="479" y="140" width="5" height="17" fill="#000"/>
<rect x="486" y="152" width="1" height="21" fill="#000"/>
<rect x="484" y="156" width="5" height="11" fill="#000"/>
<rect x="491" y="149" width="1" height="19" fill="#000"/>
<rect x="489" y="158" width="5" height="9" fill="#000"/>
<rect x="490" y="159" width="3" height="7" fill="#fff"/>
<rect x="497" y="135" width="1" height="24" fill="#000"/>
<rect x="494" y="139" width="6" height="20" fill="#000"/>
<rect x="495" y="140" width="4" height="18" fill="#fff"/>
<rect x="502" y="126" width="1" height="25" fill="#000"/>
<rect x="500" y="138" width="5" height="12" fill="#000"/>
<rect x="507" y="138" width="1" height="15" fill="#000"/>
<rect x="505" y="147" width="5" height="1" fill="#000"/>
<rect x="512" y="142" width="1" height="17" fill="#000"/>
<rect x="510" y="147" width="5" height="10" fill="#000"/>
<rect x="518" y="139" width="1" height="20" fill="#000"/>
<rect x="515" y="139" width="6" height="18" fill="#000"/>
<rect x="516" y="140" width="4" height="16" fill="#fff"/>
<rect x="523" y="135" width="1" height="15" fill="#000"/>
<rect x="521" y="139" width="5" height="11" fill="#000"/>
<rect x="528" y="140" width="1" height="12" fill="#000"/>
<rect x="526" y="148" width="5" height="1" fill="#000"/>
<rect x="533" y="147" width="1" height="20" fill="#000"/>
<rect x="531" y="147" width="5" height="19" fill="#000"/>
<rect x="539" y="155" width="1" height="22" fill="#000"/>
<rect x="536" y="165" width="6" height="9" fill="#000"/>
<rect x="544" y="165" width="1" height="20" fill="#000"/>
<rect x="542" y="175" width="5" height="1" fill="#000"/>
<rect x="549" y="158" width="1" height="24" fill="#000"/>
<rect x="547" y="171" width="5" height="7" fill="#000"/>
<rect x="548" y="172" width="3" height="5" fill="#fff"/>
<rect x="554" y="143" width="1" height="33" fill="#000"/>
<rect x="552" y="149" width="5" height="23" fill="#000"/>
<rect x="553" y="150" width="3" height="21" fill="#fff"/>
<rect x="560" y="148" width="1" height="24" fill="#000"/>
<rect x="558" y="149" width="5" height="16" fill="#000"/>
<rect x="565" y="162" width="1" height="20" fill="#000"/>
<rect x="563" y="164" width="5" height="8" fill="#000"/>
<rect x="570" y="162" width="1" height="12" fill="#000"/>
<rect x="568" y="170" width="5" height="2" fill="#000"/>
<rect x="575" y="160" width="1" height="16" fill="#000"/>
<rect x="573" y="169" width="5" height="3" fill="#000"/>
<rect x="574" y="170" width="3" height="1" fill="#fff"/>
<rect x="581" y="166" width="1" height="11" fill="#000"/>
<rect x="579" y="170" width="5" height="4" fill="#000"/>
<rect x="586" y="173" width="1" height="25" fill="#000"/>
<rect x="584" y="173" width="5" height="21" fill="#000"/>
<rect x="591" y="174" width="1" height="23" fill="#000"/>
<rect x="589" y="183" width="5" height="11" fill="#000"/>
<rect x="590" y="184" width="3" height="9" fill="#fff"/>
<rect x="596" y="176" width="1" height="18" fill="#000"/>
<rect x="594" y="183" width="5" height="8" fill="#000"/>
<rect x="602" y="169" width="1" height="22" fill="#000"/>
<rect x="600" y="181" width="5" height="8" fill="#000"/>
<rect x="601" y="182" width="3" height="6" fill="#fff"/>
<rect x="607" y="181" width="1" height="24" fill="#000"/>
<rect x="605" y="181" width="5" height="21" fill="#000"/>
<rect x="612" y="197" width="1" height="9" fill="#000"/>
<rect x="610" y="200" width="5" height="2" fill="#000"/>
</g>
<g shape-rendering="crispEdges">
<line x1="113" y1="224.5" x2="660" y2="224.5" stroke="#0000ff" stroke-width="3" stroke-dasharray="4 2"/>
<line x1="16" y1="252.5" x2="656" y2="252.5" stroke="#0000ff" stroke-width="3" stroke-dasharray="4 2"/>
<line x1="223" y1="171.5" x2="653" y2="171.5" stroke="#ff0000" stroke-width="3" stroke-dasharray="4 2"/>
</g>
<polygon points="235,150 243,150 243,158 247,158 239,166 231,158 235,158" fill="#ff0000"/>
<polygon points="276,175 284,183 280,183 280,191 272,191 272,183 268,183" fill="#ff0000"/>
<polygon points="455,175 463,183 459,183 459,191 451,191 451,183 447,183" fill="#ff0000"/>
<polygon points="486,175 494,183 490,183 490,191 482,191 482,183 478,183" fill="#ff0000"/>
<defs><clipPath id="cc"><circle cx="596.5" cy="188.3" r="26.8"/></clipPath></defs>
<circle cx="596.5" cy="188.3" r="26.8" fill="#ffff00" shape-rendering="crispEdges"/>
<g clip-path="url(#cc)">
<g shape-rendering="crispEdges">
<rect x="544" y="165" width="1" height="20" fill="#0000ff"/>
<rect x="542" y="175" width="5" height="1" fill="#0000ff"/>
<rect x="549" y="158" width="1" height="24" fill="#0000ff"/>
<rect x="547" y="171" width="5" height="7" fill="#0000ff"/>
<rect x="548" y="172" width="3" height="5" fill="#ffff00"/>
<rect x="554" y="143" width="1" height="33" fill="#0000ff"/>
<rect x="552" y="149" width="5" height="23" fill="#0000ff"/>
<rect x="553" y="150" width="3" height="21" fill="#ffff00"/>
<rect x="560" y="148" width="1" height="24" fill="#0000ff"/>
<rect x="558" y="149" width="5" height="16" fill="#0000ff"/>
<rect x="565" y="162" width="1" height="20" fill="#0000ff"/>
<rect x="563" y="164" width="5" height="8" fill="#0000ff"/>
<rect x="570" y="162" width="1" height="12" fill="#0000ff"/>
<rect x="568" y="170" width="5" height="2" fill="#0000ff"/>
<rect x="575" y="160" width="1" height="16" fill="#0000ff"/>
<rect x="573" y="169" width="5" height="3" fill="#0000ff"/>
<rect x="574" y="170" width="3" height="1" fill="#ffff00"/>
<rect x="581" y="166" width="1" height="11" fill="#0000ff"/>
<rect x="579" y="170" width="5" height="4" fill="#0000ff"/>
<rect x="586" y="173" width="1" height="25" fill="#0000ff"/>
<rect x="584" y="173" width="5" height="21" fill="#0000ff"/>
<rect x="591" y="174" width="1" height="23" fill="#0000ff"/>
<rect x="589" y="183" width="5" height="11" fill="#0000ff"/>
<rect x="590" y="184" width="3" height="9" fill="#ffff00"/>
<rect x="596" y="176" width="1" height="18" fill="#0000ff"/>
<rect x="594" y="183" width="5" height="8" fill="#0000ff"/>
<rect x="602" y="169" width="1" height="22" fill="#0000ff"/>
<rect x="600" y="181" width="5" height="8" fill="#0000ff"/>
<rect x="601" y="182" width="3" height="6" fill="#ffff00"/>
<rect x="607" y="181" width="1" height="24" fill="#0000ff"/>
<rect x="605" y="181" width="5" height="21" fill="#0000ff"/>
<rect x="612" y="197" width="1" height="9" fill="#0000ff"/>
<rect x="610" y="200" width="5" height="2" fill="#0000ff"/>
</g>
<line x1="223" y1="171.5" x2="653" y2="171.5" stroke="#ff00ff" stroke-width="3" stroke-dasharray="4 2" shape-rendering="crispEdges"/>
<line x1="581" y1="201.5" x2="612.5" y2="183.5" stroke="#0000ff" stroke-width="1"/>
<line x1="589" y1="182" x2="612.5" y2="177" stroke="#0000ff" stroke-width="1"/>
</g>
<rect x="222" y="270" width="276" height="26" fill="#c8c8c8"/>
<polygon points="356.5,269 367.0,231 368.0,232 363.0,269" fill="#c0c0c0"/>
<rect x="220.5" y="268.5" width="275" height="25" fill="#fff" stroke="#808080" stroke-width="1"/>
<polygon points="354.5,268.5 365.5,230 360.5,268.5" fill="#fff" stroke="#808080" stroke-width="1"/>
<rect x="355.0" y="268" width="5.0" height="2" fill="#fff"/>
<text x="223" y="286" font-size="17" fill="#0000ff" font-weight="bold" textLength="239" lengthAdjust="spacingAndGlyphs">50% retracement from 1970 low</text>
<rect x="312" y="309" width="309" height="26" fill="#c8c8c8"/>
<polygon points="614,308 619.0,259.5 620.0,260.5 620.0,308" fill="#c0c0c0"/>
<rect x="310.5" y="307.5" width="308" height="25" fill="#fff" stroke="#808080" stroke-width="1"/>
<polygon points="612,307.5 617.5,258.5 617.5,307.5" fill="#fff" stroke="#808080" stroke-width="1"/>
<rect x="612.5" y="307" width="4.5" height="2" fill="#fff"/>
<text x="313" y="325" font-size="17" fill="#0000ff" font-weight="bold" textLength="239" lengthAdjust="spacingAndGlyphs">62% retracement from 2001 low</text>
<polygon points="654.3,201 658.5,195.5 699.5,195.5 699.5,206.5 658.5,206.5" fill="#fff" stroke="#000" stroke-width="1.1"/>
<text x="659" y="204.8" font-size="11" fill="#000" font-weight="bold" textLength="38.4" lengthAdjust="spacingAndGlyphs" stroke="#000" stroke-width="0.35">1061.10</text>
<text x="32" y="39.5" font-size="9.4" fill="#000" stroke="#000" stroke-width="0.05" textLength="35.5" lengthAdjust="spacingAndGlyphs">$GOLD</text>
<text x="74" y="39.8" font-size="9.4" fill="#000" stroke="#000" stroke-width="0.05" textLength="51.5" lengthAdjust="spacingAndGlyphs">(Monthly)</text>
<text x="131" y="39.5" font-size="9.4" fill="#000" stroke="#000" stroke-width="0.05" textLength="44" lengthAdjust="spacingAndGlyphs">1061.10</text>
<g shape-rendering="crispEdges" fill="#000">
<rect x="20" y="32" width="1" height="1"/>
<rect x="26" y="32" width="1" height="1"/>
<rect x="19" y="33" width="1" height="1"/>
<rect x="20" y="33" width="1" height="1"/>
<rect x="21" y="33" width="1" height="1"/>
<rect x="25" y="33" width="1" height="1"/>
<rect x="26" y="33" width="1" height="1"/>
<rect x="27" y="33" width="1" height="1"/>
<rect x="19" y="34" width="1" height="1"/>
<rect x="21" y="34" width="1" height="1"/>
<rect x="25" y="34" width="1" height="1"/>
<rect x="27" y="34" width="1" height="1"/>
<rect x="19" y="35" width="1" height="1"/>
<rect x="21" y="35" width="1" height="1"/>
<rect x="22" y="35" width="1" height="1"/>
<rect x="23" y="35" width="1" height="1"/>
<rect x="24" y="35" width="1" height="1"/>
<rect x="25" y="35" width="1" height="1"/>
<rect x="27" y="35" width="1" height="1"/>
<rect x="19" y="36" width="1" height="1"/>
<rect x="20" y="36" width="1" height="1"/>
<rect x="21" y="36" width="1" height="1"/>
<rect x="22" y="36" width="1" height="1"/>
<rect x="23" y="36" width="1" height="1"/>
<rect x="24" y="36" width="1" height="1"/>
<rect x="25" y="36" width="1" height="1"/>
<rect x="27" y="36" width="1" height="1"/>
<rect x="20" y="37" width="1" height="1"/>
<rect x="22" y="37" width="1" height="1"/>
<rect x="23" y="37" width="1" height="1"/>
<rect x="24" y="37" width="1" height="1"/>
<rect x="25" y="37" width="1" height="1"/>
<rect x="27" y="37" width="1" height="1"/>
<rect x="20" y="38" width="1" height="1"/>
<rect x="22" y="38" width="1" height="1"/>
<rect x="23" y="38" width="1" height="1"/>
<rect x="24" y="38" width="1" height="1"/>
<rect x="25" y="38" width="1" height="1"/>
<rect x="26" y="38" width="1" height="1"/>
<rect x="27" y="38" width="1" height="1"/>
<rect x="23" y="39" width="1" height="1"/>
<rect x="26" y="39" width="1" height="1"/>
</g>
</svg></body></html>
